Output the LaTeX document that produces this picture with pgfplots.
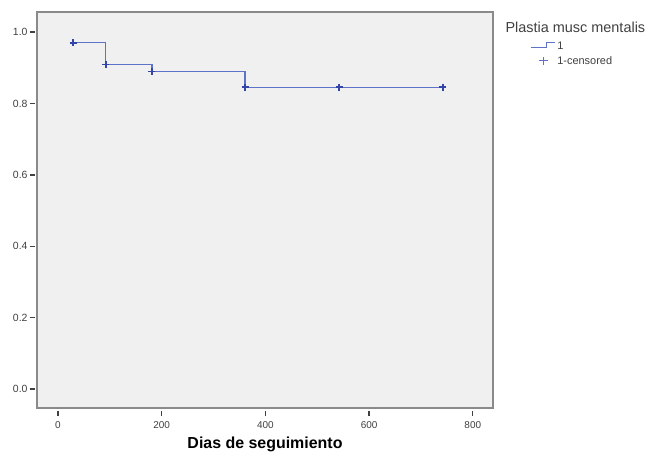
\documentclass[border=0pt]{standalone}
\usepackage{pgfplots}
\pgfplotsset{compat=1.18}
\usepackage{fontspec}
\setmainfont{Liberation Sans}
\definecolor{kmline}{HTML}{5E72C8}
\definecolor{kmmark}{HTML}{3346A8}
\definecolor{bgc}{HTML}{F0F0F0}
\definecolor{framec}{HTML}{8A8A8A}
\definecolor{tickc}{HTML}{404040}
\begin{document}
\begin{tikzpicture}
\begin{axis}[
  scale only axis,
  width=456bp, height=396bp,
  xmin=-40.5, xmax=839,
  ymin=-0.053, ymax=1.056,
  axis background/.style={fill=bgc},
  axis line style={draw=framec, line width=1.5pt},
  xtick={0,200,400,600,800},
  ytick={0,0.2,0.4,0.6,0.8,1.0},
  xtick pos=bottom, ytick pos=left,
  yticklabel style={/pgf/number format/fixed, /pgf/number format/fixed zerofill, /pgf/number format/precision=1},
  /pgf/number format/assume math mode=true,
  tick align=outside,
  major tick length=5bp,
  xtick style={draw=tickc, line width=1.4pt, yshift=-2.5bp},
  ytick style={draw=tickc, line width=1.4pt, xshift=-2bp},
  xticklabel style={font=\fontsize{10}{12}\selectfont, text=tickc, yshift=-5bp},
  yticklabel style={font=\fontsize{10.5}{12}\selectfont, text=tickc, xshift=-1bp},
  xlabel={\textbf{Dias de seguimiento}},
  xlabel style={font=\fontsize{16}{18}\selectfont, yshift=-2bp},
  legend style={at={(1,1)}, anchor=north west, xshift=37bp, yshift=-28bp,
    draw=none, fill=none, font=\fontsize{11}{12}\selectfont, text=tickc,
    row sep=1bp, inner sep=0pt, cells={anchor=west}},
  legend cell align=left,
  legend image post style={},
  /tikz/every even column/.append style={column sep=2bp},
]
\addplot[const plot, color=kmline, line width=1.5pt, mark=none,
  legend image code/.code={
    \draw[kmline, line width=1pt] (0cm,-0.03cm) -- (0.55cm,-0.03cm) -- (0.55cm,0.16cm) -- (0.85cm,0.16cm);
  }]
  coordinates {(29,0.970) (92,0.909) (181,0.889) (361,0.845) (742,0.845)};
\addlegendentry{1}
\addplot[only marks, mark=+, mark size=3.5bp, color=kmmark, line width=1.7pt,
  legend image code/.code={
    \draw[kmline, line width=1pt] (0.45cm,-0.14cm) -- (0.45cm,0.14cm) (0.3cm,0cm) -- (0.6cm,0cm);
  }]
  coordinates {(29,0.970) (92,0.909) (181,0.889) (361,0.845) (542,0.845) (742,0.845)};
\addlegendentry{1-censored}
\end{axis}
\node[anchor=west, font=\fontsize{14.5}{16}\selectfont, text=tickc] at ([xshift=9bp,yshift=-15bp]current axis.north east) {Plastia musc mentalis};
\pgfresetboundingbox
\path ([xshift=-37bp,yshift=-44bp]current axis.south west) rectangle ([xshift=160bp,yshift=12bp]current axis.north east);
\end{tikzpicture}
\end{document}
